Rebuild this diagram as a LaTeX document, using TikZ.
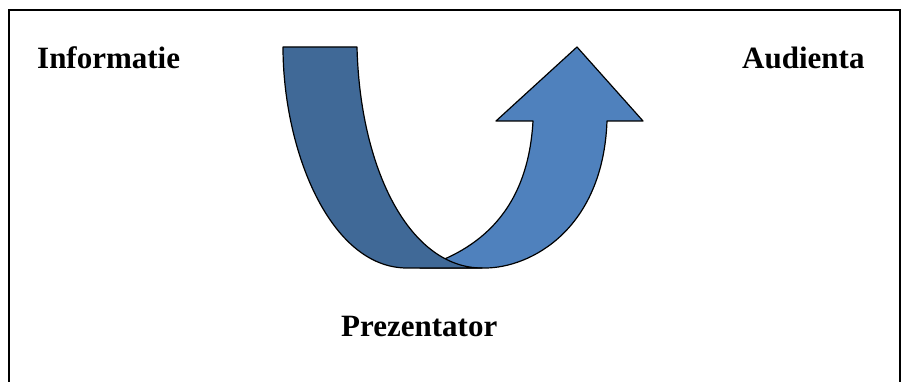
\documentclass[tikz,border=0pt]{standalone}
\usepackage{fontspec}
\setmainfont{Liberation Serif}
\definecolor{bandDark}{HTML}{406997}
\definecolor{bandLight}{HTML}{4F81BD}
\tikzset{
  label/.style={font=\fontsize{31}{36}\selectfont\bfseries, inner sep=0pt, anchor=base west},
  band/.style={draw=black, line width=1.2pt, line join=round}
}
\begin{document}
\begin{tikzpicture}[x=1pt,y=-1pt]
\useasboundingbox (0,0) rectangle (903,382);
% frame
\draw[line width=2pt] (9,382) -- (9,10) -- (900,10) -- (900,382);
% light arrow (drawn first, underneath)
\filldraw[band, fill=bandLight]
  (533,121) -- (496,121) -- (577,47) -- (643,121) -- (607,121)
  .. controls (603,230) and (530,268) .. (485,268)
  -- (420,268)
  .. controls (480,250) and (528,210) .. (533,121) -- cycle;
% dark band (on top)
\filldraw[band, fill=bandDark]
  (283,47) -- (357,47)
  .. controls (360,170) and (410,268) .. (482,268)
  -- (407,268)
  .. controls (330,268) and (283,150) .. (283,47) -- cycle;
% labels
\node[label] (info) at (37,69) {Informatie};
\node[label] (aud) at (742,69) {Audienta};
\node[label] (prez) at (341,337) {Prezentator};
\end{tikzpicture}
\end{document}
